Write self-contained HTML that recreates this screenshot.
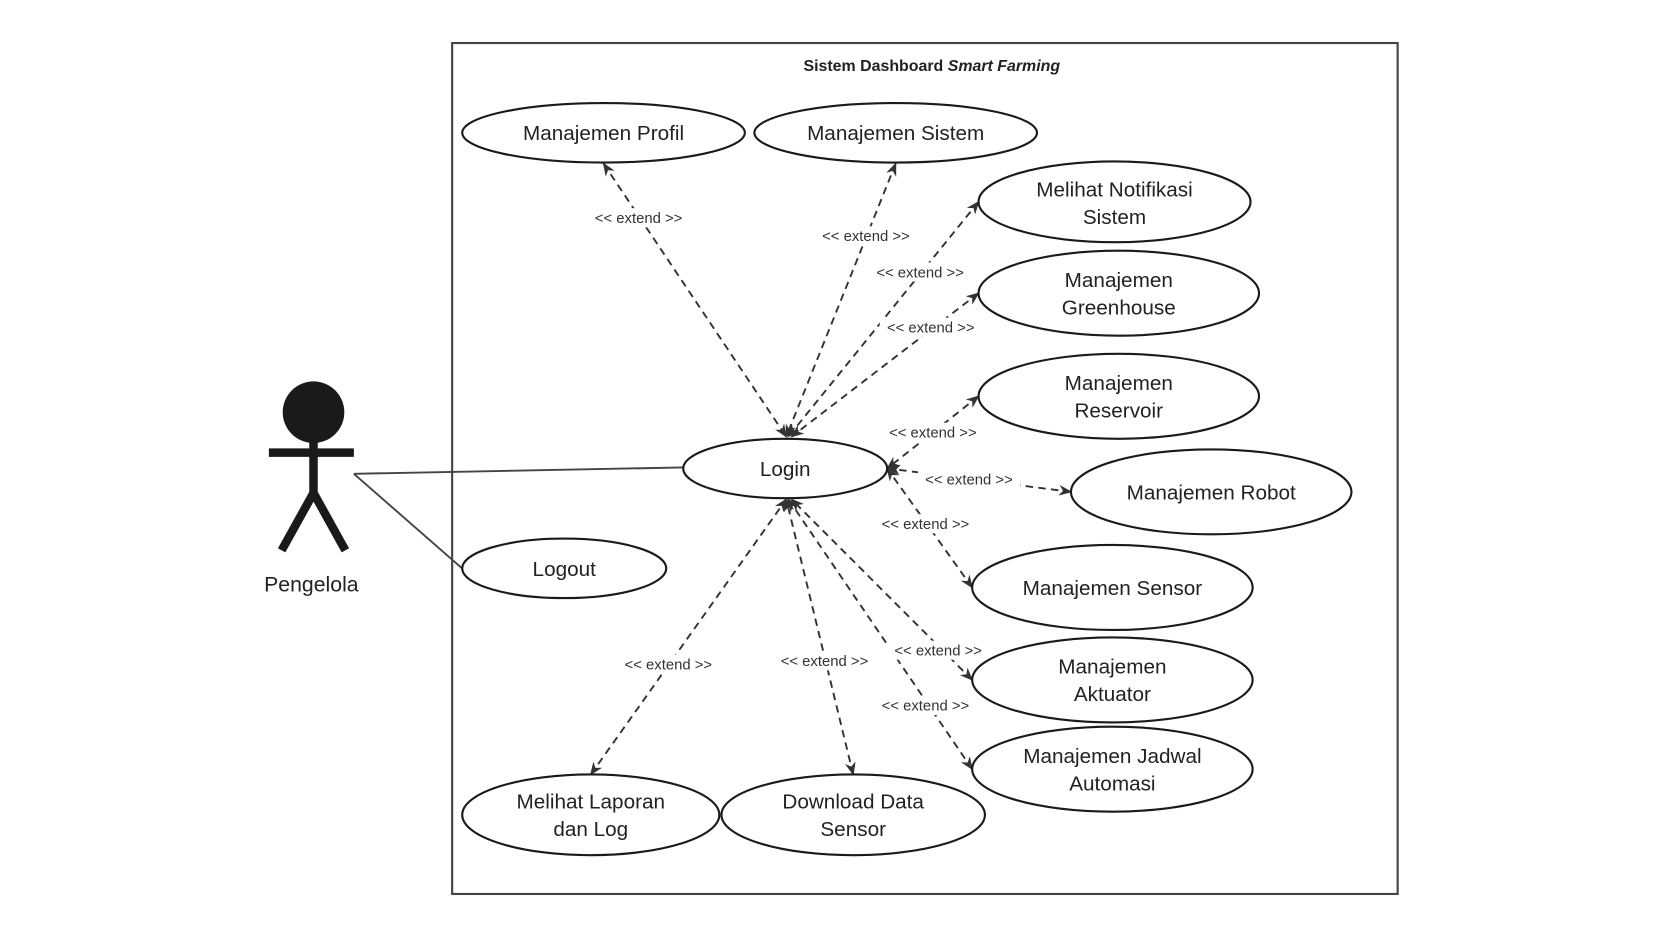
<!DOCTYPE html>
<html><head><meta charset="utf-8"><style>
html,body{margin:0;padding:0;background:#fff;}
svg{display:block;}
text{font-family:"Liberation Sans","DejaVu Sans",sans-serif;fill:#222;}
.u{font-size:19.5px;text-anchor:middle;}
.l{font-size:14px;text-anchor:middle;fill:#333;}
</style></head><body>
<svg width="1666" height="937" viewBox="0 0 1568 882" xmlns="http://www.w3.org/2000/svg">
<defs>
<marker id="a" viewBox="0 0 10 10" refX="9" refY="5" markerWidth="7" markerHeight="7" orient="auto-start-reverse"><path d="M0,1 L10,5 L0,9 L3,5 Z" fill="#333"/></marker>
</defs>
<rect x="425.5" y="40.5" width="890" height="801" fill="#fff" stroke="#444" stroke-width="2"/>
<text x="877" y="67" style="font-size:15px;font-weight:bold;text-anchor:middle">Sistem Dashboard <tspan font-style="italic">Smart Farming</tspan></text>

<!-- actor -->
<circle cx="295" cy="388" r="29" fill="#1a1a1a"/>
<line x1="295" y1="412" x2="295" y2="464" stroke="#1a1a1a" stroke-width="8"/>
<line x1="253" y1="426" x2="333" y2="426" stroke="#1a1a1a" stroke-width="8"/>
<polyline points="265,518 295,464 325,518" fill="none" stroke="#1a1a1a" stroke-width="8"/>
<text x="293" y="557" style="font-size:20px;text-anchor:middle">Pengelola</text>
<line x1="333" y1="446" x2="643" y2="440" stroke="#444" stroke-width="1.8"/>
<line x1="333" y1="446" x2="436" y2="536" stroke="#444" stroke-width="1.8"/>

<g stroke="#333" stroke-width="1.8" stroke-dasharray="7,5" fill="none" marker-start="url(#a)" marker-end="url(#a)">
<line x1="568" y1="154" x2="740" y2="411"/>
<line x1="843" y1="154" x2="740" y2="411"/>
<line x1="921" y1="190" x2="742" y2="411"/>
<line x1="921" y1="276" x2="745" y2="411"/>
<line x1="921" y1="373" x2="835" y2="441"/>
<line x1="1008" y1="463" x2="836" y2="441"/>
<line x1="915" y1="553" x2="835" y2="441"/>
<line x1="915" y1="640" x2="745" y2="470"/>
<line x1="915" y1="724" x2="742" y2="470"/>
<line x1="556" y1="729" x2="740" y2="470"/>
<line x1="803" y1="729" x2="740" y2="470"/>
</g>
<g>
<rect x="553" y="196" width="96" height="18" fill="#fff"/><text class="l" x="601" y="210">&lt;&lt; extend &gt;&gt;</text>
<rect x="767" y="213" width="96" height="18" fill="#fff"/><text class="l" x="815" y="227">&lt;&lt; extend &gt;&gt;</text>
<rect x="818" y="247" width="96" height="18" fill="#fff"/><text class="l" x="866" y="261">&lt;&lt; extend &gt;&gt;</text>
<rect x="828" y="299" width="96" height="18" fill="#fff"/><text class="l" x="876" y="313">&lt;&lt; extend &gt;&gt;</text>
<rect x="830" y="398" width="96" height="18" fill="#fff"/><text class="l" x="878" y="412">&lt;&lt; extend &gt;&gt;</text>
<rect x="864" y="442" width="96" height="18" fill="#fff"/><text class="l" x="912" y="456">&lt;&lt; extend &gt;&gt;</text>
<rect x="823" y="484" width="96" height="18" fill="#fff"/><text class="l" x="871" y="498">&lt;&lt; extend &gt;&gt;</text>
<rect x="835" y="603" width="96" height="18" fill="#fff"/><text class="l" x="883" y="617">&lt;&lt; extend &gt;&gt;</text>
<rect x="823" y="655" width="96" height="18" fill="#fff"/><text class="l" x="871" y="669">&lt;&lt; extend &gt;&gt;</text>
<rect x="581" y="616" width="96" height="18" fill="#fff"/><text class="l" x="629" y="630">&lt;&lt; extend &gt;&gt;</text>
<rect x="728" y="613" width="96" height="18" fill="#fff"/><text class="l" x="776" y="627">&lt;&lt; extend &gt;&gt;</text>
</g>

<g fill="#fff" stroke="#1a1a1a" stroke-width="2">
<ellipse cx="568" cy="125" rx="133" ry="28"/>
<ellipse cx="843" cy="125" rx="133" ry="28"/>
<ellipse cx="1049" cy="190" rx="128" ry="38"/>
<ellipse cx="1053" cy="276" rx="132" ry="40"/>
<ellipse cx="1053" cy="373" rx="132" ry="40"/>
<ellipse cx="739" cy="441" rx="96" ry="28"/>
<ellipse cx="1140" cy="463" rx="132" ry="40"/>
<ellipse cx="531" cy="535" rx="96" ry="28"/>
<ellipse cx="1047" cy="553" rx="132" ry="40"/>
<ellipse cx="1047" cy="640" rx="132" ry="40"/>
<ellipse cx="1047" cy="724" rx="132" ry="40"/>
<ellipse cx="556" cy="767" rx="121" ry="38"/>
<ellipse cx="803" cy="767" rx="124" ry="38"/>
</g>
<text class="u" x="568" y="132">Manajemen Profil</text>
<text class="u" x="843" y="132">Manajemen Sistem</text>
<text class="u" x="1049" y="185">Melihat Notifikasi</text>
<text class="u" x="1049" y="211">Sistem</text>
<text class="u" x="1053" y="270">Manajemen</text>
<text class="u" x="1053" y="296">Greenhouse</text>
<text class="u" x="1053" y="367">Manajemen</text>
<text class="u" x="1053" y="393">Reservoir</text>
<text class="u" x="739" y="448">Login</text>
<text class="u" x="1140" y="470">Manajemen Robot</text>
<text class="u" x="531" y="542">Logout</text>
<text class="u" x="1047" y="560">Manajemen Sensor</text>
<text class="u" x="1047" y="634">Manajemen</text>
<text class="u" x="1047" y="660">Aktuator</text>
<text class="u" x="1047" y="718">Manajemen Jadwal</text>
<text class="u" x="1047" y="744">Automasi</text>
<text class="u" x="556" y="761">Melihat Laporan</text>
<text class="u" x="556" y="787">dan Log</text>
<text class="u" x="803" y="761">Download Data</text>
<text class="u" x="803" y="787">Sensor</text>
</svg>
</body></html>
